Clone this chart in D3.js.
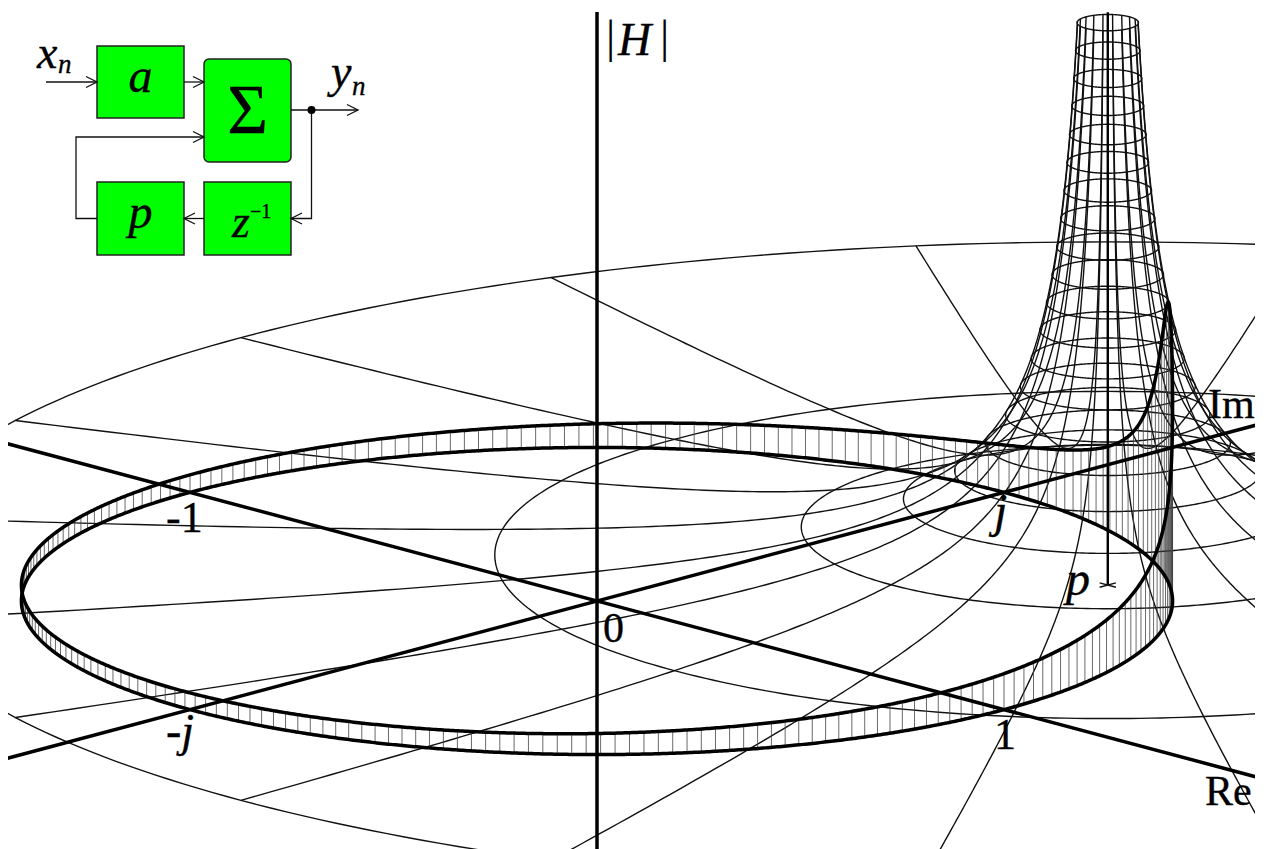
<!DOCTYPE html>
<html lang="en">
<head>
<meta charset="utf-8">
<title>One pole filter magnitude surface</title>
<style type="text/css">
html, body {
  margin: 0;
  background: #fff;
}
svg {
  display: block;
}
text {
  font-family: "Liberation Serif", serif;
  fill: #000;
  stroke: #000;
  stroke-width: 0.35px;
}
.wire {
  fill: none;
  stroke: #111;
  stroke-width: 1.4px;
}
.band {
  stroke: #444;
  stroke-width: 0.8px;
}
.heavy {
  fill: none;
  stroke: #000;
  stroke-width: 3.5px;
}
.block {
  fill: #00ff00;
  stroke: #222;
  stroke-width: 1.5px;
}
.link {
  fill: none;
  stroke: #111;
  stroke-width: 1.3px;
}
</style>
</head>
<body>
<svg width="1269" height="849"></svg>
<script src="https://d3js.org/d3.v7.min.js"></script>
<script>
// values
var poleRe = 0.554,
    poleIm = 0.701,
    ringFloor = 0.067;

// radius of each constant magnitude ring around the pole
var ringRadii = [2.13, 1.065, 0.5325, 0.355, 0.266, 0.213, 0.1775, 0.152, 0.133, 0.118, 0.1065,
                 0.0968, 0.0888, 0.0819, 0.0761, 0.071, 0.0666, 0.0626, 0.0592, 0.0561, 0.0533];
// direction of each radial line, degrees
var rayAngles = [0, 18, 36, 54, 72, 90, 108, 126, 144, 162, 180, 198, 216, 234, 252, 270, 288, 306, 324, 342];
var rimStepDeg = 1.44;
var planeAxisRange = [-2.6, 2.6];
var magAxisRange = [-8.4, 19.72];
var poleLineRange = [0, 19.18];
var crossSize = 0.02;

var planeLabels = ["-1", "0", "1", "-j", "j", "Re", "Im", "H", "p"];
var blockNames = ["a", "Σ", "p", "z"];

var width = 1269, height = 849;
var svg = d3.select("svg");

// oblique view: re+im runs across the page, re-im runs down it, magnitude goes straight up
var acrossScale = d3.scaleLinear().domain([-1, 1]).range([190, 1004]);
var downScale = d3.scaleLinear().domain([-1, 1]).range([492.4, 709.6]);
var magScale = d3.scaleLinear().domain([0, 1]).range([0, 29.87]);

function project(re, im, mag) {
  return [acrossScale(re + im), downScale(re - im) - magScale(mag)];
}

function magnitudeAt(re, im) {
  return 1 / Math.hypot(re - poleRe, im - poleIm);
}

var line = d3.line();
var fullTurn = d3.range(0, 360.5, 1);

svg.append("defs").append("clipPath").attr("id", "frame")
  .append("rect").attr("x", 8).attr("y", 0).attr("width", 1247).attr("height", height);

var plot = svg.append("g").attr("clip-path", "url(#frame)");

function rad(d) { return d * Math.PI / 180; }

// rings
plot.append("g").selectAll("path")
    .data(ringRadii)
  .enter().append("path")
    .attr("class", "wire")
    .attr("d", function(r) {
      return line(fullTurn.map(function(t) {
        return project(poleRe + r * Math.cos(rad(t)), poleIm + r * Math.sin(rad(t)), 1 / r + ringFloor);
      }));
    });

// radial lines, sampled evenly in log radius so the tower stays smooth
var radiusScale = d3.scaleLog().domain(d3.extent(ringRadii)).range([0, 1]);
var raySteps = d3.range(0, 1.0001, 0.005).map(radiusScale.invert);

plot.append("g").selectAll("path")
    .data(rayAngles)
  .enter().append("path")
    .attr("class", "wire")
    .attr("d", function(a) {
      return line(raySteps.map(function(r) {
        return project(poleRe + r * Math.cos(rad(a)), poleIm + r * Math.sin(rad(a)), 1 / r + ringFloor);
      }));
    });

// rim between the unit circle on the plane and the surface above it
var rimAngles = d3.range(0, 360, rimStepDeg);
plot.append("g").selectAll("line")
    .data(rimAngles)
  .enter().append("line")
    .attr("class", "band")
    .attr("x1", function(t) { return project(Math.cos(rad(t)), Math.sin(rad(t)), 0)[0]; })
    .attr("y1", function(t) { return project(Math.cos(rad(t)), Math.sin(rad(t)), 0)[1]; })
    .attr("x2", function(t) { return project(Math.cos(rad(t)), Math.sin(rad(t)), 0)[0]; })
    .attr("y2", function(t) {
      var re = Math.cos(rad(t)), im = Math.sin(rad(t));
      return project(re, im, magnitudeAt(re, im))[1];
    });

var fineTurn = d3.range(0, 360.1, 0.25);
plot.append("path")
    .attr("class", "heavy")
    .attr("d", line(fineTurn.map(function(t) {
      return project(Math.cos(rad(t)), Math.sin(rad(t)), 0);
    })));
plot.append("path")
    .attr("class", "heavy")
    .attr("d", line(fineTurn.map(function(t) {
      var re = Math.cos(rad(t)), im = Math.sin(rad(t));
      return project(re, im, magnitudeAt(re, im));
    })));

// axes
plot.append("path").attr("class", "heavy")
    .attr("d", line(planeAxisRange.map(function(v) { return project(v, 0, 0); })));
plot.append("path").attr("class", "heavy")
    .attr("d", line(planeAxisRange.map(function(v) { return project(0, v, 0); })));
plot.append("path").attr("class", "heavy")
    .attr("d", line(magAxisRange.map(function(m) { return project(0, 0, m); })));
plot.append("path").attr("class", "heavy")
    .style("stroke-width", "2.4px")
    .attr("d", line(poleLineRange.map(function(m) { return project(poleRe, poleIm, m); })));

// cross on the pole
plot.append("path").attr("class", "wire")
    .attr("d", line([-crossSize, crossSize].map(function(v) { return project(poleRe + v, poleIm, 0); })));
plot.append("path").attr("class", "wire")
    .attr("d", line([-crossSize, crossSize].map(function(v) { return project(poleRe, poleIm + v, 0); })));

// labels on the plot
var labelLayout = {
  "-1": {x: 166, y: 532, size: 44, italic: false},
  "0": {x: 603, y: 642, size: 42, italic: false},
  "1": {x: 994, y: 749, size: 44, italic: false},
  "-j": {x: 166, y: 746, size: 46, italic: true},
  "j": {x: 994, y: 527, size: 48, italic: true},
  "Re": {x: 1205, y: 805, size: 42, italic: false},
  "Im": {x: 1208, y: 418, size: 42, italic: false},
  "H": {x: 618, y: 55, size: 46, italic: true},
  "p": {x: 1066, y: 595, size: 48, italic: true}
};

plot.append("g").selectAll("text")
    .data(planeLabels)
  .enter().append("text")
    .attr("x", function(d) { return labelLayout[d].x; })
    .attr("y", function(d) { return labelLayout[d].y; })
    .style("font-size", function(d) { return labelLayout[d].size + "px"; })
    .style("font-style", function(d) { return labelLayout[d].italic ? "italic" : "normal"; })
    .text(function(d) { return d; });

// upright bars round the H
plot.append("g").selectAll("text")
    .data([606, 660])
  .enter().append("text")
    .attr("x", function(d) { return d; })
    .attr("y", 52)
    .style("font-size", "46px")
    .style("stroke-width", 0)
    .text("|");

// block diagram
var blockLayout = {
  "a": {x: 97, y: 46, w: 87, h: 72, rx: 0, tx: 140.5, ty: 92, size: 48},
  "Σ": {x: 204, y: 59, w: 87, h: 103, rx: 5, tx: 247.5, ty: 133, size: 70},
  "p": {x: 97, y: 182, w: 87, h: 73, rx: 0, tx: 140.5, ty: 228, size: 48},
  "z": {x: 204, y: 182, w: 87, h: 73, rx: 0, tx: 241, ty: 237, size: 46}
};

var diagram = svg.append("g");

diagram.selectAll("rect")
    .data(blockNames)
  .enter().append("rect")
    .attr("class", "block")
    .attr("x", function(d) { return blockLayout[d].x; })
    .attr("y", function(d) { return blockLayout[d].y; })
    .attr("width", function(d) { return blockLayout[d].w; })
    .attr("height", function(d) { return blockLayout[d].h; })
    .attr("rx", function(d) { return blockLayout[d].rx; });

diagram.selectAll("text.name")
    .data(blockNames)
  .enter().append("text")
    .attr("class", "name")
    .attr("x", function(d) { return blockLayout[d].tx; })
    .attr("y", function(d) { return blockLayout[d].ty; })
    .attr("text-anchor", "middle")
    .style("font-size", function(d) { return blockLayout[d].size + "px"; })
    .style("font-style", function(d) { return d == "Σ" ? "normal" : "italic"; })
    .text(function(d) { return d; });

var wires = [
  {pts: [[46, 82], [97, 82]]},
  {pts: [[184, 82], [204, 82]]},
  {pts: [[291, 110], [358, 110]]},
  {pts: [[311.5, 110], [311.5, 218.5], [291, 218.5]]},
  {pts: [[204, 218.5], [184, 218.5]]},
  {pts: [[97, 218.5], [76, 218.5], [76, 137], [204, 137]]}
];

diagram.selectAll("path.link")
    .data(wires)
  .enter().append("path")
    .attr("class", "link")
    .attr("d", function(d) { return line(d.pts); });

// open arrow head at the end of each wire
diagram.selectAll("path.head")
    .data(wires)
  .enter().append("path")
    .attr("class", "link")
    .attr("d", function(d) {
      var n = d.pts.length, e = d.pts[n - 1], s = d.pts[n - 2];
      var dir = e[0] > s[0] ? -1 : 1;
      return line([[e[0] + dir * 11, e[1] - 5.5], e, [e[0] + dir * 11, e[1] + 5.5]]);
    });

diagram.append("circle")
    .attr("cx", 311.5).attr("cy", 110).attr("r", 4).attr("fill", "#000");

var extraText = [
  {t: "x", x: 37, y: 68, size: 46, italic: true},
  {t: "n", x: 58, y: 73, size: 27, italic: true},
  {t: "y", x: 331, y: 87, size: 46, italic: true},
  {t: "n", x: 352, y: 95, size: 27, italic: true},
  {t: "−1", x: 250, y: 218, size: 20, italic: false}
];

diagram.selectAll("text.extra")
    .data(extraText)
  .enter().append("text")
    .attr("class", "extra")
    .attr("x", function(d) { return d.x; })
    .attr("y", function(d) { return d.y; })
    .style("font-size", function(d) { return d.size + "px"; })
    .style("font-style", function(d) { return d.italic ? "italic" : "normal"; })
    .text(function(d) { return d.t; });
</script>
</body>
</html>
